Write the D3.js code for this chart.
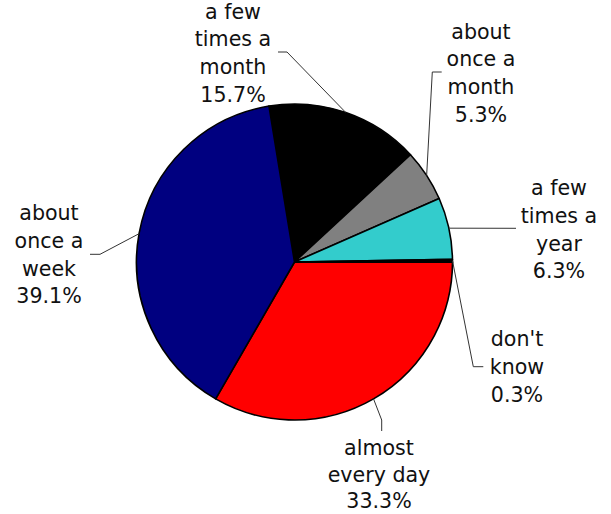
<!DOCTYPE html>
<html>
<head>
<meta charset="utf-8">
<script src="https://cdn.jsdelivr.net/npm/d3@7"></script>
<style>
  html, body { margin: 0; padding: 0; background: #fff; }
  svg { display: block; }
  text { font-family: "DejaVu Sans", Verdana, sans-serif; fill: #111; }
</style>
</head>
<body>
<svg id="chart" width="611" height="514"></svg>
<script>
// Frequency of use — share of respondents
const categories = [
  "a few times a month",
  "about once a month",
  "a few times a year",
  "don't know",
  "almost every day",
  "about once a week"
];
const labelLines = [
  ["a few", "times a", "month"],
  ["about", "once a", "month"],
  ["a few", "times a", "year"],
  ["don't", "know"],
  ["almost", "every day"],
  ["about", "once a", "week"]
];
const values = [15.7, 5.3, 6.3, 0.3, 33.3, 39.1];
const colors = ["#000000", "#808080", "#33CCCC", "#000000", "#FF0000", "#000080"];

// Layout
const width = 611, height = 514;
const cx = 294.5, cy = 262, radius = 158;
const firstSliceAngle = -9.3; // degrees clockwise from 12 o'clock
const fontSize = 20.6, lineGap = 27.7;

// Label placement: text centre x, baseline of the last line,
// line spacing, and the leader's start/elbow points near the label.
const labelLayout = [
  { x: 233, last: 101.7, gap: lineGap, leader: [[278, 52], [287, 52]] },
  { x: 481, last: 121.7, gap: lineGap, leader: [[441.7, 72], [432.3, 72]] },
  { x: 559, last: 278.3, gap: lineGap, leader: [[516, 228.3]] },
  { x: 517, last: 401.7, gap: lineGap, leader: [[483.3, 366.7], [473.3, 366.7]] },
  { x: 379, last: 508,   gap: 26.5,    leader: [[381.7, 431], [381.7, 420]] },
  { x: 49,  last: 303.3, gap: lineGap, leader: [[90, 254.3], [100, 254.3]] }
];

const svg = d3.select("#chart");
const g = svg.append("g").attr("transform", `translate(${cx},${cy})`);

const rad = d => d * Math.PI / 180;
const pie = d3.pie().sort(null).value(d => d.value)
  .startAngle(rad(firstSliceAngle))
  .endAngle(rad(firstSliceAngle) + 2 * Math.PI);

const data = categories.map((c, i) => ({ name: c, value: values[i], color: colors[i], lines: labelLines[i], layout: labelLayout[i] }));
const arcs = pie(data);

const arc = d3.arc().innerRadius(0).outerRadius(radius);
const edge = d3.arc().innerRadius(radius).outerRadius(radius);

g.selectAll("path.slice")
  .data(arcs)
  .join("path")
  .attr("class", "slice")
  .attr("d", arc)
  .attr("fill", d => d.data.color)
  .attr("stroke", "#000")
  .attr("stroke-width", 1.6)
  .attr("stroke-linejoin", "round");

// Leader lines from labels to the slice edge
const line = d3.line();
svg.selectAll("path.leader")
  .data(arcs)
  .join("path")
  .attr("class", "leader")
  .attr("d", d => {
    const c = edge.centroid(d);
    const pts = d.data.layout.leader.concat([[c[0] + cx, c[1] + cy]]);
    return line(pts);
  })
  .attr("fill", "none")
  .attr("stroke", "#333")
  .attr("stroke-width", 1);

// Labels: category words plus percentage
const labels = svg.selectAll("text.label")
  .data(arcs)
  .join("text")
  .attr("class", "label")
  .attr("text-anchor", "middle")
  .attr("font-size", fontSize);

labels.each(function (d) {
  const lines = d.data.lines.concat([d3.format(".1f")(d.data.value) + "%"]);
  const n = lines.length;
  d3.select(this).selectAll("tspan")
    .data(lines)
    .join("tspan")
    .attr("x", d.data.layout.x)
    .attr("y", (t, i) => d.data.layout.last - (n - 1 - i) * d.data.layout.gap)
    .text(t => t);
});
</script>
</body>
</html>
